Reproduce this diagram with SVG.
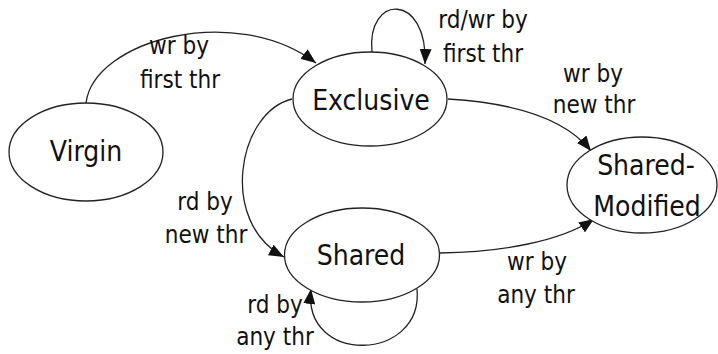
<svg xmlns="http://www.w3.org/2000/svg" width="718" height="354" viewBox="0 0 718 354">
  <style>
    .state ellipse { fill: #ffffff; stroke: #222; stroke-width: 1.3; }
    .state text { font-family: "DejaVu Sans Condensed", "DejaVu Sans", sans-serif; font-stretch: condensed; font-size: 28px; fill: #111; text-anchor: middle; }
    .edge { fill: none; stroke: #222; stroke-width: 1.3; marker-end: url(#arrow); }
    .lbl { font-family: "DejaVu Sans Condensed", "DejaVu Sans", sans-serif; font-stretch: condensed; font-size: 24px; fill: #111; text-anchor: middle; }
  </style>
  <defs>
    <marker id="arrow" markerUnits="userSpaceOnUse" markerWidth="16" markerHeight="12" refX="15" refY="6" orient="auto">
      <path d="M0,0 L15,6 L0,12 Z" fill="#111"/>
    </marker>
  </defs>
  <rect width="718" height="354" fill="#ffffff"/>

  <g id="connectors">
    <path class="edge" d="M86,103 C94,40 235,2 316,63"/>
    <path class="edge" d="M372,52 C366,-6 428,-8 425,64"/>
    <path class="edge" d="M448,99 C515,103 565,118 591,151"/>
    <path class="edge" d="M292,99 C238,112 218,222 284,257"/>
    <path class="edge" d="M440,253 C500,252 560,242 594,219"/>
    <path class="edge" d="M417,289 C424,362 302,366 311,289"/>
    <text class="lbl" x="179" y="54">wr by</text>
    <text class="lbl" x="180" y="88">first thr</text>
    <text class="lbl" x="483" y="28">rd/wr by</text>
    <text class="lbl" x="483" y="62">first thr</text>
    <text class="lbl" x="593" y="82">wr by</text>
    <text class="lbl" x="594" y="113">new thr</text>
    <text class="lbl" x="205" y="210">rd by</text>
    <text class="lbl" x="206" y="243">new thr</text>
    <text class="lbl" x="275" y="313">rd by</text>
    <text class="lbl" x="275" y="345">any thr</text>
    <text class="lbl" x="537" y="270">wr by</text>
    <text class="lbl" x="536" y="303">any thr</text>
  </g>

  <g id="virgin" class="state">
    <ellipse cx="86" cy="152" rx="77" ry="49"/>
    <text x="86" y="161">Virgin</text>
  </g>
  <g id="exclusive" class="state">
    <ellipse cx="370" cy="99" rx="77" ry="47"/>
    <text x="371" y="110">Exclusive</text>
  </g>
  <g id="shared" class="state">
    <ellipse cx="362" cy="255" rx="77.5" ry="47"/>
    <text x="361" y="265">Shared</text>
  </g>
  <g id="shared-modified" class="state">
    <ellipse cx="642" cy="185" rx="75" ry="48"/>
    <text x="646" y="175">Shared-</text>
    <text x="647" y="216">Modified</text>
  </g>
</svg>
